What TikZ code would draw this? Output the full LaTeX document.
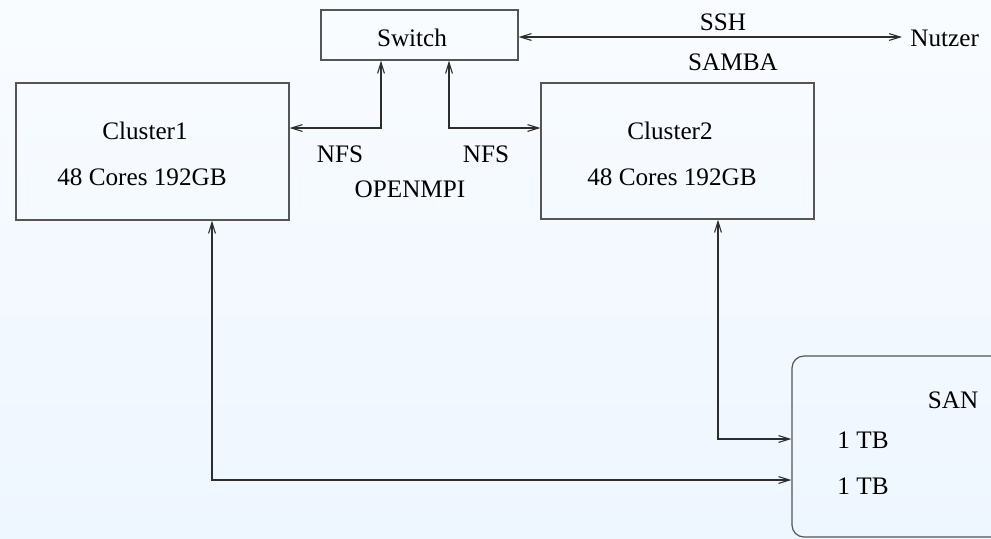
\documentclass[tikz,border=0pt]{standalone}
\usepackage{fontspec}
\setmainfont{Liberation Serif}
\usetikzlibrary{arrows.meta,calc}
\definecolor{bgtop}{RGB}{249,252,255}
\definecolor{bgbot}{RGB}{238,246,255}
\definecolor{boxline}{RGB}{85,85,85}
\definecolor{linkline}{RGB}{45,45,45}
\tikzset{
  px/.style={x=0.5pt,y=-0.5pt},
  unitbox/.style={draw=boxline,line width=0.6pt,inner sep=0pt,anchor=center},
  lbl/.style={inner sep=0pt,font=\fontsize{12.6}{15}\selectfont,text=black},
  biarrow/.style={linkline,line width=0.55pt,
    {Straight Barb[length=5.5pt,width=3.4pt]}-{Straight Barb[length=5.5pt,width=3.4pt]}},
  onearrow/.style={linkline,line width=0.55pt,-{Straight Barb[length=5.5pt,width=3.4pt]}}
}
\begin{document}
\begin{tikzpicture}[px]
  % page area with a soft vertical gradient
  \fill[top color=bgtop,bottom color=bgbot] (0,0) rectangle (991,538);
  \useasboundingbox (0,0) rectangle (991,538);
  \clip (0,0) rectangle (991,538);

  % boxes
  \node[unitbox,minimum width=98.5pt,minimum height=25pt] (sw) at (419.5,35) {};
  \node[unitbox,minimum width=136.5pt,minimum height=68.5pt] (c1) at (152.5,151.5) {};
  \node[unitbox,minimum width=136.5pt,minimum height=68pt] (c2) at (677.5,151) {};
  \node[unitbox,rounded corners=6pt,minimum width=130pt,minimum height=90.5pt] (san) at (922,446.5) {};

  % labels
  \node[lbl] (swt) at (412,38) {Switch};
  \node[lbl] (c1a) at (145,131) {Cluster1};
  \node[lbl] (c1b) at (142,177) {48 Cores 192GB};
  \node[lbl] (c2a) at (670,131) {Cluster2};
  \node[lbl] (c2b) at (672,177) {48 Cores 192GB};
  \node[lbl] (nfs1) at (340,154) {NFS};
  \node[lbl] (nfs2) at (486,154) {NFS};
  \node[lbl] (mpi) at (410,189) {OPENMPI};
  \node[lbl] (ssh) at (723,22) {SSH};
  \node[lbl] (smb) at (733,62) {SAMBA};
  \node[lbl,anchor=west] (usr) at (910,38) {Nutzer};
  \node[lbl] (sant) at (953,400) {SAN};
  \node[lbl] (tb1) at (863,440) {1 TB};
  \node[lbl] (tb2) at (863,486) {1 TB};
  \coordinate (usrpt) at (902,37);

  % connectors
  \draw[biarrow] (sw.south -| 381,0) |- (c1.east |- 0,128);
  \draw[biarrow] (sw.south -| 449,0) |- (c2.west |- 0,128);
  \draw[biarrow] (sw.east |- 0,37) -- (usrpt);
  \draw[biarrow] (c2.south -| 718,0) |- (san.west |- 0,439);
  \draw[biarrow] (c1.south -| 212,0) |- (san.west |- 0,480);
\end{tikzpicture}
\end{document}
